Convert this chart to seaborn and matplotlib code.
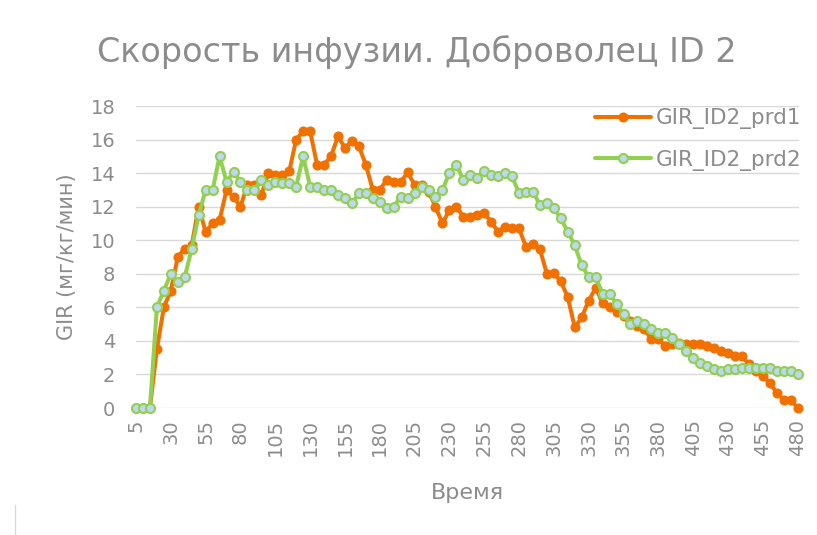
import numpy as np
import pandas as pd
import matplotlib
matplotlib.use("Agg")
import matplotlib.pyplot as plt
import seaborn as sns
from matplotlib.lines import Line2D

# время, мин (шаг 5)
time_min = list(range(5, 481, 5))

# GIR, мг/кг/мин
gir_prd1 = [0, 0, 0, 3.5, 6.0, 7.0, 9.0, 9.5, 9.7, 12.0,
            10.5, 11.0, 11.2, 13.0, 12.6, 12.0, 13.3, 13.3, 12.7, 14.0,
            13.9, 13.9, 14.1, 16.0, 16.5, 16.5, 14.5, 14.5, 15.0, 16.2,
            15.5, 15.9, 15.6, 14.5, 13.0, 13.0, 13.6, 13.45, 13.45, 14.05,
            13.3, 13.3, 12.9, 12.0, 11.0, 11.8, 12.0, 11.4, 11.4, 11.5,
            11.6, 11.1, 10.5, 10.8, 10.7, 10.7, 9.6, 9.8, 9.45, 8.0,
            8.05, 7.55, 6.6, 4.8, 5.4, 6.4, 7.15, 6.25, 6.0, 5.7,
            5.5, 5.2, 4.9, 4.7, 4.1, 4.1, 3.7, 3.8, 3.9, 3.8,
            3.8, 3.8, 3.7, 3.6, 3.4, 3.3, 3.1, 3.1, 2.6, 2.2,
            1.9, 1.5, 0.9, 0.5, 0.5, 0.0]

gir_prd2 = [0, 0, 0, 6.0, 7.0, 8.0, 7.5, 7.8, 9.5, 11.5,
            13.0, 13.0, 15.0, 13.5, 14.05, 13.5, 13.0, 13.0, 13.6, 13.3,
            13.5, 13.4, 13.4, 13.2, 15.0, 13.2, 13.2, 13.0, 13.0, 12.7,
            12.5, 12.2, 12.8, 12.8, 12.5, 12.3, 11.9, 12.0, 12.6, 12.5,
            12.8, 13.2, 13.0, 12.6, 13.0, 14.0, 14.5, 13.6, 13.9, 13.7,
            14.1, 13.9, 13.8, 14.0, 13.8, 12.8, 12.9, 12.9, 12.1, 12.2,
            11.9, 11.3, 10.5, 9.7, 8.5, 7.8, 7.8, 6.8, 6.8, 6.2,
            5.6, 5.0, 5.2, 5.0, 4.7, 4.5, 4.5, 4.2, 3.8, 3.4,
            3.0, 2.7, 2.5, 2.3, 2.2, 2.3, 2.3, 2.4, 2.4, 2.4,
            2.4, 2.4, 2.2, 2.2, 2.2, 2.0]

df = pd.DataFrame({"t": time_min, "prd1": gir_prd1, "prd2": gir_prd2})

sns.set_style("white")
plt.rcParams["font.family"] = ["DejaVu Sans"]
grey = "#8c8c8c"

fig = plt.figure(figsize=(8.17, 5.35), dpi=100)
ax = fig.add_axes([136 / 817, 1 - 408 / 535, 663 / 817, 302 / 535])

sns.lineplot(data=df, x="t", y="prd1", ax=ax, color="#f07000", linewidth=2.9,
             marker="o", markersize=6.5, markeredgecolor="#f07000",
             markerfacecolor="#f07000", label="GIR_ID2_prd1", clip_on=False, zorder=3)
sns.lineplot(data=df, x="t", y="prd2", ax=ax, color="#92d050", linewidth=2.9,
             marker="o", markersize=6.5, markeredgecolor="#92d050", markeredgewidth=1.5,
             markerfacecolor="#bdd7ee", label="GIR_ID2_prd2", clip_on=False, zorder=4)

ax.set_xlim(5, 481)
ax.set_ylim(0, 18)
ax.set_yticks(range(0, 19, 2))
ax.set_xticks(time_min[::5])
ax.set_xticklabels([str(t) for t in time_min[::5]], rotation=90)
ax.grid(axis="y", color="#d9d9d9", linewidth=1)
ax.grid(axis="x", visible=False)
for s in ax.spines.values():
    s.set_visible(False)
ax.tick_params(axis="y", length=0, pad=15, labelsize=14, labelcolor=grey)
ax.tick_params(axis="x", length=0, pad=8, labelsize=14, labelcolor=grey)

ax.set_xlabel("Время", fontsize=16, color=grey, labelpad=19)
ax.set_ylabel("GIR (мг/кг/мин)", fontsize=15, color=grey, labelpad=10)

fig.text(417 / 817, 1 - 52 / 535, "Скорость инфузии. Доброволец ID 2",
         ha="center", va="center", fontsize=24, color=grey)

ax.legend(loc="upper left", bbox_to_anchor=(576 / 817, 1 - 89 / 535),
          bbox_transform=fig.transFigure, frameon=False, fontsize=15.5,
          labelcolor=grey, handlelength=2.6, handletextpad=0.2, labelspacing=0.95)

fig.add_artist(Line2D([15 / 817, 15 / 817], [0, 30 / 535], color="#d9d9d9",
                      linewidth=1, transform=fig.transFigure))

fig.savefig("out.png", dpi=100)
